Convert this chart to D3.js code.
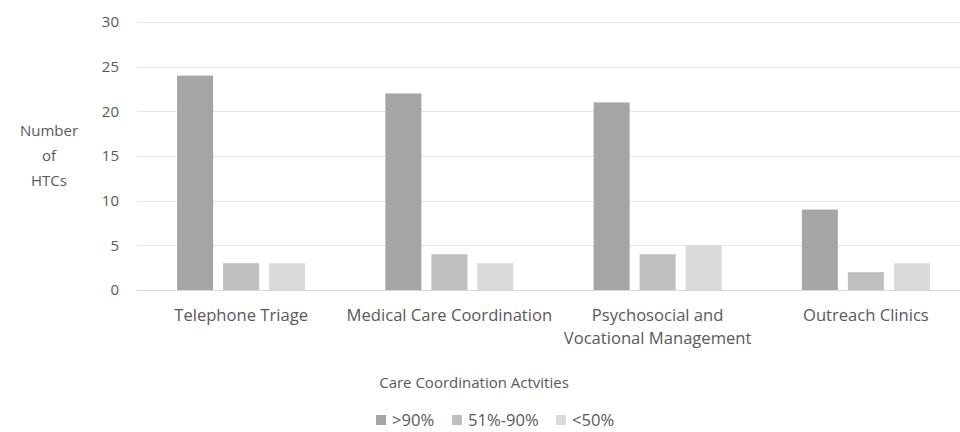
<!DOCTYPE html>
<html>
<head>
<meta charset="utf-8">
<script src="https://cdn.jsdelivr.net/npm/d3@7"></script>
<style>
  html, body { margin: 0; padding: 0; background: #fff; }
  svg { display: block; font-family: "Open Sans", "Liberation Sans", sans-serif; }
  .tick-label { fill: #595959; font-size: 15px; }
  .cat-label { fill: #595959; font-size: 16.6px; }
</style>
</head>
<body>
<div id="chart"></div>
<script>
const categories = ["Telephone Triage", "Medical Care Coordination", "Psychosocial and\nVocational Management", "Outreach Clinics"];
const seriesNames = [">90%", "51%-90%", "<50%"];
const over90 = [24, 22, 21, 9];
const mid51to90 = [3, 4, 4, 2];
const under50 = [3, 3, 5, 3];
const yTicks = [0, 5, 10, 15, 20, 25, 30];
const colors = ["#a5a5a5", "#bfbfbf", "#d9dad9"];

const width = 960, height = 432;
const margin = { left: 137, right: -10, top: 22, bottom: 142 };
const innerW = width - margin.left - margin.right;
const innerH = height - margin.top - margin.bottom;

const svg = d3.select("#chart").append("svg").attr("width", width).attr("height", height);

const x0 = d3.scaleBand().domain(categories).range([margin.left, margin.left + innerW]).paddingInner(0.385).paddingOuter(0.1925);
const x1 = d3.scaleBand().domain(seriesNames).range([0, x0.bandwidth()]).paddingInner(0.217);
const y = d3.scaleLinear().domain([0, 30]).range([margin.top + innerH, margin.top]);

// gridlines
svg.append("g").selectAll("line").data(yTicks).enter().append("line")
  .attr("x1", margin.left).attr("x2", margin.left + innerW)
  .attr("y1", d => Math.round(y(d)) + 0.5).attr("y2", d => Math.round(y(d)) + 0.5)
  .attr("stroke", d => d === 0 ? "#d9d9d9" : "#e6e6e6").attr("stroke-width", 1);

// y tick labels
svg.append("g").selectAll("text").data(yTicks).enter().append("text")
  .attr("class", "tick-label")
  .attr("x", 119).attr("y", d => y(d)).attr("dy", "0.35em")
  .attr("text-anchor", "end").text(d => d);

// bars
const rows = categories.map((c, i) => ({ cat: c, values: [over90[i], mid51to90[i], under50[i]] }));
const groups = svg.append("g").selectAll("g").data(rows).enter().append("g")
  .attr("transform", d => `translate(${x0(d.cat)},0)`);
groups.selectAll("rect").data(d => d.values.map((v, j) => ({ key: seriesNames[j], v, j }))).enter().append("rect")
  .attr("x", d => x1(d.key)).attr("width", x1.bandwidth())
  .attr("y", d => y(d.v)).attr("height", d => y(0) - y(d.v))
  .attr("fill", d => colors[d.j]);

// x labels
const xl = svg.append("g").selectAll("text").data(categories).enter().append("text")
  .attr("class", "cat-label")
  .attr("text-anchor", "middle")
  .attr("y", 321);
xl.each(function (d) {
  const t = d3.select(this);
  d.split("\n").forEach((line, i) => {
    t.append("tspan").attr("x", x0(d) + x0.bandwidth() / 2).attr("dy", i === 0 ? 0 : 23).text(line);
  });
});

// y axis title
const yt = svg.append("text").attr("class", "tick-label").attr("text-anchor", "middle");
["Number", "of", "HTCs"].forEach((s, i) => {
  yt.append("tspan").attr("x", 49).attr("y", 136 + i * 25).text(s);
});

// x axis title
svg.append("text").attr("class", "tick-label")
  .attr("x", 474).attr("y", 388).attr("text-anchor", "middle")
  .text("Care Coordination Actvities");

// legend
const legendX = [376, 452, 556];
const lg = svg.append("g").selectAll("g").data(seriesNames).enter().append("g")
  .attr("transform", (d, i) => `translate(${legendX[i]},420)`);
lg.append("rect").attr("width", 10).attr("height", 10).attr("y", -5).attr("fill", (d, i) => colors[i]);
lg.append("text").attr("class", "cat-label").attr("x", 16).attr("y", 0).attr("dy", "0.35em")
  .text(d => d);
</script>
</body>
</html>
